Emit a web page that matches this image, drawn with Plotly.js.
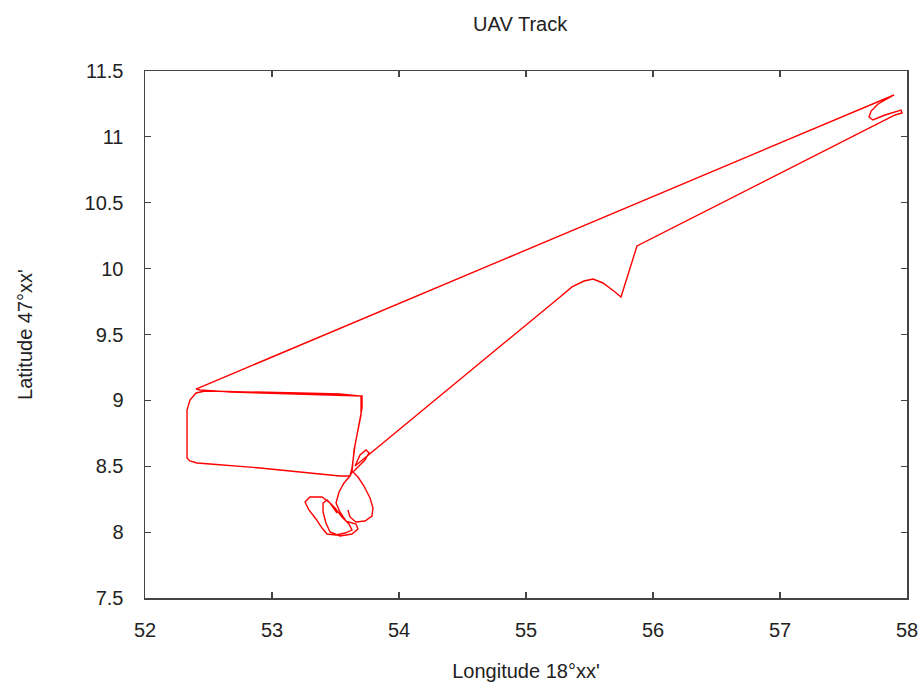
<!DOCTYPE html>
<html>
<head>
<meta charset="utf-8">
<script src="https://cdn.plot.ly/plotly-3.0.1.min.js"></script>
<style>html,body{margin:0;padding:0;background:#fff;}#chart{width:919px;height:682px;}</style>
</head>
<body>
<div id="chart"></div>
<script>
// Longitude (18°xx') and latitude (47°xx') samples of the UAV track
const lonStart = [53.512,53.457,53.394,53.299,53.260,53.291,53.346,53.394,53.433,53.504,53.575,53.630,53.606,53.551,53.496,53.433,53.402,53.402,53.425,53.457,53.535,53.630,53.677,53.661,53.583,53.535,53.504,53.528,53.567,53.614,53.630];
const latStart = [8.145,8.221,8.267,8.267,8.229,8.168,8.100,8.031,7.986,7.978,7.993,8.016,8.062,8.115,8.183,8.244,8.221,8.153,8.069,8.001,7.971,7.986,8.024,8.062,8.084,8.153,8.221,8.305,8.373,8.426,8.456];

const lonRect = [53.638,53.646,53.669,53.701,53.701,53.535,53.220,52.827,52.472,52.402,52.354,52.331,52.331,52.331,52.354,52.409,52.512,52.906,53.299,53.535,53.614,53.630,53.654,53.685,53.709,53.709,53.457,53.063,52.669,52.433,52.402];
const latRect = [8.525,8.623,8.737,8.889,9.033,9.048,9.056,9.064,9.071,9.056,9.003,8.927,8.699,8.563,8.540,8.525,8.517,8.487,8.449,8.426,8.426,8.487,8.661,8.813,8.942,9.033,9.041,9.048,9.064,9.079,9.086];

const lonOut = [57.898,57.772,57.717,57.701,57.732,57.827,57.953,57.961,57.906,55.874];
const latOut = [11.318,11.250,11.196,11.151,11.128,11.166,11.204,11.181,11.166,10.172];

const lonBack = [55.748,55.701,55.606,55.528,55.457,55.362,55.268,53.654,53.693,53.740,53.764,53.732,53.677,53.638,53.677,53.724,53.772,53.795,53.787,53.732,53.661,53.614,53.598];
const latBack = [9.785,9.823,9.891,9.921,9.906,9.861,9.785,8.502,8.585,8.623,8.601,8.547,8.494,8.456,8.418,8.350,8.259,8.183,8.122,8.084,8.077,8.115,8.168];

const xTicks = [52,53,54,55,56,57,58];
const yTicks = [7.5,8,8.5,9,9.5,10,10.5,11,11.5];

const lon = lonStart.concat(lonRect, lonOut, lonBack);
const lat = latStart.concat(latRect, latOut, latBack);

const font = {family: 'Liberation Sans, Arial, sans-serif', size: 20, color: '#222'};

const axisBase = {
  showgrid: false, zeroline: false,
  showline: true, linecolor: '#444', linewidth: 1.5,
  mirror: 'ticks', ticks: 'inside', ticklen: 6, tickcolor: '#444', tickwidth: 1.2,
  tickfont: font, automargin: false
};

Plotly.newPlot('chart', [{
  x: lon, y: lat, type: 'scatter', mode: 'lines',
  line: {color: '#ff0000', width: 1.4}, hoverinfo: 'skip'
}], {
  width: 919, height: 682,
  margin: {l: 145, r: 12, t: 71, b: 84},
  paper_bgcolor: '#fff', plot_bgcolor: '#fff',
  showlegend: false,
  title: {text: 'UAV Track', font: font, x: 0.566, xanchor: 'center', y: 0.965, yanchor: 'middle'},
  xaxis: Object.assign({}, axisBase, {
    range: [52, 58], tickvals: xTicks, ticktext: xTicks.map(String),
    ticklabelstandoff: 13,
    title: {text: "Longitude 18°xx'", font: font, standoff: 26}
  }),
  yaxis: Object.assign({}, axisBase, {
    range: [7.5, 11.5], tickvals: yTicks, ticktext: yTicks.map(String),
    ticklabelstandoff: 16,
    title: {text: "Latitude 47°xx'", font: font, standoff: 46}
  })
}, {staticPlot: true});
</script>
</body>
</html>
